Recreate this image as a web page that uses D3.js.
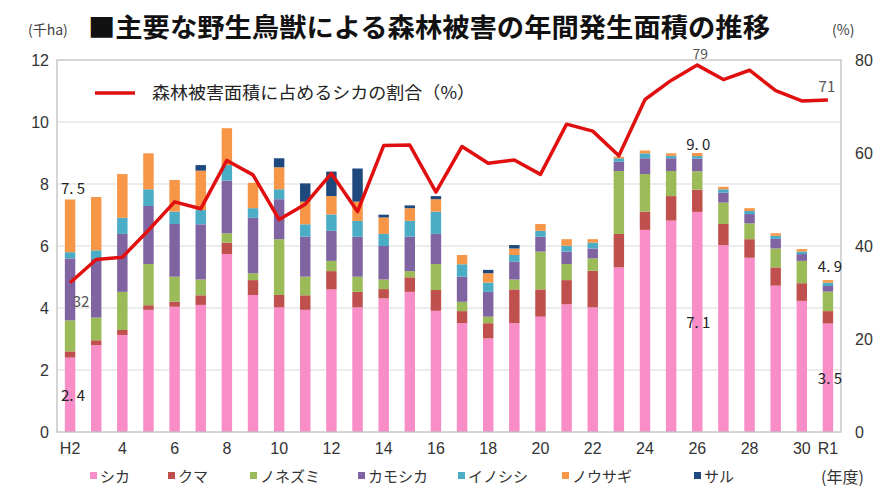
<!DOCTYPE html>
<html><head><meta charset="utf-8">
<script src="https://cdn.jsdelivr.net/npm/d3@7"></script>
<style>
body{margin:0;background:#fff;}
svg{display:block;font-family:"Noto Sans CJK JP","Noto Sans",sans-serif;}
</style></head>
<body><svg id="c" width="890" height="500"></svg>
<script>
const years = ["H2","3","4","5","6","7","8","9","10","11","12","13","14","15","16","17","18","19","20","21","22","23","24","25","26","27","28","29","30","R1"];
const tickLabels = ["H2","4","6","8","10","12","14","16","18","20","22","24","26","28","30","R1"];
const seriesNames = ["シカ","クマ","ノネズミ","カモシカ","イノシシ","ノウサギ","サル"];
const shika =     [2.4,2.8,3.13,3.94,4.04,4.1,5.74,4.42,4.02,3.94,4.6,4.02,4.31,4.52,3.91,3.51,3.02,3.51,3.72,4.12,4.02,5.31,6.52,6.82,7.1,6.03,5.62,4.72,4.23,3.5];
const kuma =      [0.2,0.16,0.16,0.15,0.16,0.31,0.37,0.48,0.4,0.47,0.59,0.5,0.3,0.47,0.67,0.39,0.49,1.09,0.88,0.78,1.18,1.08,0.59,0.79,0.72,0.68,0.6,0.59,0.57,0.4];
const nezumi =    [1.0,0.73,1.23,1.33,0.81,0.51,0.3,0.22,1.8,0.6,0.33,0.49,0.31,0.2,0.84,0.3,0.21,0.32,1.22,0.52,0.4,2.03,1.21,0.81,0.59,0.69,0.51,0.61,0.72,0.63];
const kamoshika = [2.0,1.89,1.87,1.87,1.7,1.78,1.7,1.79,1.29,1.29,0.97,1.29,1.08,1.11,0.97,0.81,0.8,0.57,0.48,0.4,0.32,0.3,0.51,0.41,0.41,0.32,0.3,0.31,0.22,0.18];
const inoshishi = [0.2,0.28,0.52,0.54,0.4,0.46,0.5,0.31,0.32,0.4,0.53,0.51,0.39,0.51,0.72,0.4,0.3,0.22,0.19,0.19,0.19,0.11,0.16,0.08,0.08,0.11,0.1,0.1,0.08,0.11];
const usagi =     [1.7,1.72,1.41,1.16,1.02,1.27,1.19,0.82,0.71,0.73,0.59,0.62,0.53,0.41,0.4,0.3,0.3,0.21,0.22,0.21,0.11,0.05,0.09,0.08,0.1,0.08,0.09,0.08,0.08,0.08];
const saru =      [0,0,0,0,0,0.18,0,0,0.29,0.59,0.79,1.07,0.09,0.09,0.1,0,0.11,0.11,0,0,0,0,0,0,0,0,0,0,0,0];
const ratio =     [32.1,37.1,37.6,43.4,49.5,48.0,58.4,55.3,45.7,49.0,55.6,47.4,61.6,61.7,51.6,61.4,57.8,58.5,55.4,66.2,64.7,59.4,71.5,75.6,78.9,75.8,77.8,73.4,71.2,71.4];
const leftTicks = [0,2,4,6,8,10,12];
const rightTicks = [0,20,40,60,80];
const colors = ["#F98DC8","#C0504D","#9BBB59","#8064A2","#4BACC6","#F79646","#1F497D"];

const seriesArr = [shika,kuma,nezumi,kamoshika,inoshishi,usagi,saru];
const rows = years.map((y,i)=>{const o={year:y}; seriesNames.forEach((n,k)=>o[n]=seriesArr[k][i]); return o;});
const stack = d3.stack().keys(seriesNames)(rows);

const svg = d3.select("#c");
const L=57,R=841,T=60,B=432;
const x = d3.scaleBand().domain(years).range([L,R]).paddingInner(0.6).paddingOuter(0.3);
const y = d3.scaleLinear().domain([0,12]).range([B,T]);
const y2 = d3.scaleLinear().domain([0,80]).range([B,T]);
const cx = d=>x(d)+x.bandwidth()/2;

// gridlines
svg.append("g").selectAll("line").data(leftTicks.filter(t=>t>0&&t<12)).join("line")
  .attr("x1",L).attr("x2",R).attr("y1",d=>y(d)).attr("y2",d=>y(d))
  .attr("stroke","#D9D9D9").attr("stroke-width",1.2);

// bars
svg.append("g").selectAll("g").data(stack).join("g").attr("fill",(d,i)=>colors[i])
  .selectAll("rect").data(d=>d).join("rect")
  .attr("x",d=>x(d.data.year)).attr("width",x.bandwidth())
  .attr("y",d=>y(d[1])).attr("height",d=>Math.max(0,y(d[0])-y(d[1])));

// frame
svg.append("rect").attr("x",L).attr("y",T).attr("width",R-L).attr("height",B-T)
  .attr("fill","none").attr("stroke","#BFBFBF").attr("stroke-width",1.3);

// line
const line = d3.line().x((d,i)=>cx(years[i])).y(d=>y2(d));
svg.append("path").datum(ratio).attr("d",line).attr("fill","none")
  .attr("stroke","#E01010").attr("stroke-width",3.5).attr("stroke-linejoin","round");

// axes
const axFont = "'Liberation Sans Narrow','Liberation Sans',sans-serif";
const yl = svg.append("g").attr("transform",`translate(${L},0)`)
  .call(d3.axisLeft(y).tickValues(leftTicks).tickSize(0).tickPadding(8).tickFormat(d3.format("d")));
const yr = svg.append("g").attr("transform",`translate(${R},0)`)
  .call(d3.axisRight(y2).tickValues(rightTicks).tickSize(0).tickPadding(14).tickFormat(d3.format("d")));
const xa = svg.append("g").attr("transform",`translate(0,${B})`)
  .call(d3.axisBottom(x).tickSize(0).tickPadding(11).tickFormat((d,i)=>{const l=(i===0?"H2":(i===years.length-1?"R1":d)); return tickLabels.includes(l)?l:"";}));
[yl,yr,xa].forEach(g=>{g.select(".domain").remove();
  g.selectAll("text").attr("font-family",axFont).attr("font-size",16).attr("fill","#333");});

// titles
svg.append("text").attr("x",28).attr("y",35).attr("font-size",14).attr("fill","#404040").text("(千ha)");
svg.append("text").attr("x",88).attr("y",37).attr("font-size",26).attr("font-weight","bold").attr("fill","#111")
  .attr("textLength",682).attr("lengthAdjust","spacingAndGlyphs").text("■主要な野生鳥獣による森林被害の年間発生面積の推移");
svg.append("text").attr("x",832).attr("y",35).attr("font-size",14).attr("fill","#404040").text("(%)");

// line legend
svg.append("line").attr("x1",95).attr("x2",135).attr("y1",93).attr("y2",93).attr("stroke","#E01010").attr("stroke-width",3.5);
svg.append("text").attr("x",152).attr("y",99).attr("font-size",17).attr("fill","#222")
  .attr("textLength",323).attr("lengthAdjust","spacingAndGlyphs").text("森林被害面積に占めるシカの割合（%）");

// data labels
const lab = (txt,xx,yy,fs,col)=>svg.append("text").attr("x",xx).attr("y",yy).attr("text-anchor","middle")
  .attr("font-size",fs||15).attr("fill",col||"#222").attr("font-family","'Noto Sans CJK JP',sans-serif").text(txt);
const tot = i=>seriesArr.reduce((s,a)=>s+a[i],0);
const iH2=0, iH26=years.indexOf("26"), iR1=years.length-1;
lab("7. 5",cx(years[iH2])+3,y(tot(iH2))-6);
lab("2. 4",cx(years[iH2])+3,y(shika[iH2]/2)+6);
lab("32",cx(years[iH2])+11,y2(ratio[iH2])+24,15,"#555");
lab("9. 0",cx(years[iH26])+1,y(tot(iH26))-3);
lab("7. 1",cx(years[iH26])+1,y(shika[iH26]/2)+6);
lab("79",cx(years[iH26])+3,y2(ratio[iH26])-6,14,"#555");
lab("71",cx(years[iR1])-1,y2(ratio[iR1])-8,15,"#555");
lab("4. 9",cx(years[iR1])+2,y(tot(iR1))-8);
lab("3. 5",cx(years[iR1])+2,y(shika[iR1]/2)+6);

// bottom legend
const legX = [90,168,250,358,458,562,694];
const lg = svg.append("g");
seriesNames.forEach((n,i)=>{
  lg.append("rect").attr("x",legX[i]).attr("y",472).attr("width",7).attr("height",7).attr("fill",colors[i]);
  lg.append("text").attr("x",legX[i]+10).attr("y",482).attr("font-size",15).attr("fill","#333").text(n);
});
svg.append("text").attr("x",821).attr("y",483).attr("font-size",16).attr("fill","#333").text("(年度)");
</script></body></html>
